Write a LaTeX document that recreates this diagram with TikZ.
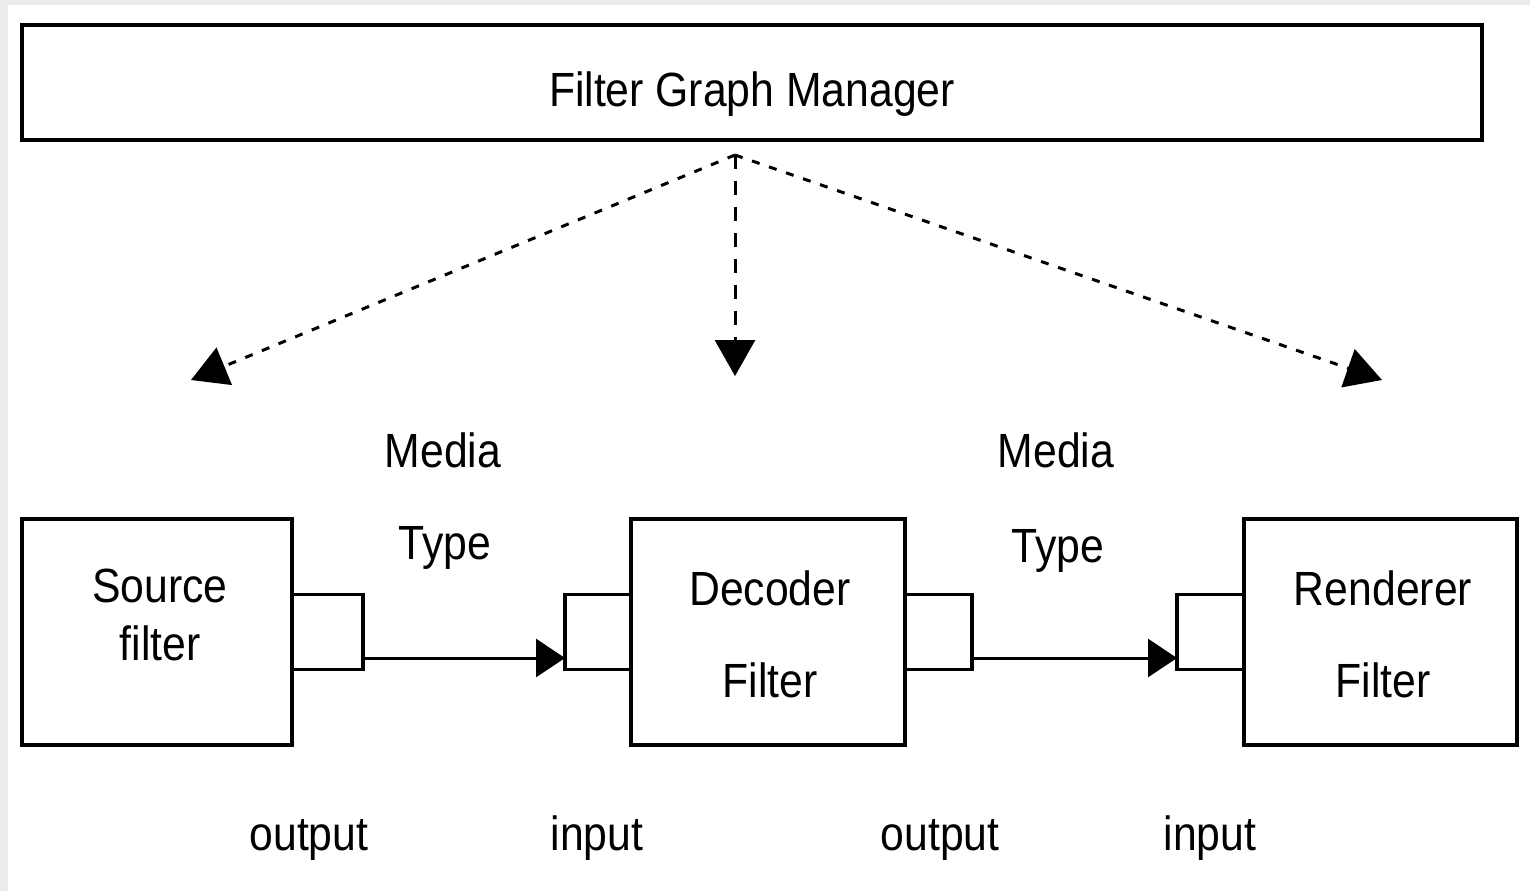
\documentclass[tikz,border=0pt]{standalone}
\usepackage{fontspec}
\usetikzlibrary{arrows.meta,positioning}
\newfontfamily\diagfont[FakeStretch=0.89]{Liberation Sans}

\begin{document}
\begin{tikzpicture}[x = 0.5pt, y = -0.5pt,
    every node/.style = {inner sep = 0pt, outer sep = 0pt},
    txt/.style = {anchor = base, font = \diagfont\fontsize{24}{30}\selectfont},
    filterbox/.style = {draw, line width = 2pt, minimum width = 136.5pt, minimum height = 113pt},
    portbox/.style = {draw, line width = 1.6pt, minimum width = 33.5pt, minimum height = 37.5pt},
    flow/.style = {line width = 1.5pt, -{Triangle[length = 14.5pt, width = 19pt]}},
    ctrl/.style = {line width = 1.5pt, dash pattern = on 4pt off 5pt,
        -{Triangle[length = 18pt, width = 20pt]}}]
    % page with its grey edge
    \fill[gray!15] (0,0) rectangle (1530,891);
    \fill[white] (8,5) rectangle (1530,891);
    \useasboundingbox (0,0) rectangle (1530,891);

    % manager
    \node[draw, line width = 2pt, minimum width = 730pt, minimum height = 57.5pt] (fgm) at (752,82.5) {};
    \node[txt] (fgmtxt) at (752,106) {Filter Graph Manager};

    % filters and their pins
    \node[filterbox, minimum width = 135pt] (src) at (157,632) {};
    \node[filterbox, minimum width = 137pt] (dec) at (768,632) {};
    \node[filterbox] (rnd) at (1380.5,632) {};
    \node[portbox, minimum width = 35.5pt, right = 0pt of src] (srcout) {};
    \node[portbox, minimum width = 33pt, left = 0pt of dec] (decin) {};
    \node[portbox, right = 0pt of dec] (decout) {};
    \node[portbox, left = 0pt of rnd] (rndin) {};

    \node[txt] (srctxt) at (160,602) {Source};
    \node[txt] (srctxt2) at (160,660) {filter};
    \node[txt] (dectxt) at (770,605) {Decoder};
    \node[txt] (dectxt2) at (770,697) {Filter};
    \node[txt] (rndtxt) at (1383,605) {Renderer};
    \node[txt] (rndtxt2) at (1383,697) {Filter};

    % media type between pins
    \node[txt] (mt1) at (443,467) {Media};
    \node[txt] (mt1b) at (445,559) {Type};
    \node[txt] (mt2) at (1056,467) {Media};
    \node[txt] (mt2b) at (1058,562) {Type};

    \node[txt] (o1) at (309,850) {output};
    \node[txt] (i1) at (597,850) {input};
    \node[txt] (o2) at (940,850) {output};
    \node[txt] (i2) at (1210,850) {input};

    \draw[flow] ([yshift = -13pt]srcout.east) -- ([yshift = -13pt]decin.west);
    \draw[flow] ([yshift = -13pt]decout.east) -- ([yshift = -13pt]rndin.west);

    % control from the manager
    \coordinate (hub) at (735,155);
    \coordinate (toSrc) at (191,380);
    \coordinate (toDec) at (735,376);
    \coordinate (toRnd) at (1382,380);
    \draw[ctrl] (hub) -- (toSrc);
    \draw[ctrl, dash pattern = on 7pt off 6pt] (hub) -- (toDec);
    \draw[ctrl] (hub) -- (toRnd);
\end{tikzpicture}
\end{document}
